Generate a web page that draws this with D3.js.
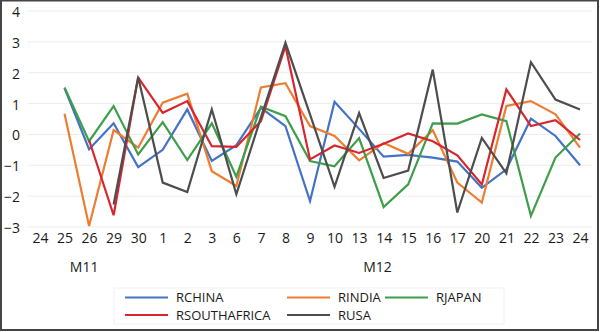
<!DOCTYPE html>
<html>
<head>
<meta charset="utf-8">
<script src="https://cdn.jsdelivr.net/npm/d3@7"></script>
<style>
  html, body { margin: 0; padding: 0; background: #fff; }
  svg { display: block; font-family: "Open Sans", "Noto Sans", sans-serif; }
</style>
</head>
<body>
<svg id="chart" width="600" height="332"></svg>
<script>
// ---- data ----
const days = ["24","25","26","29","30","1","2","3","6","7","8","9","10","13","14","15","16","17","20","21","22","23","24"];
const monthLabels = ["M11", "M12"];
const monthStart = [0, 5];
const monthEnd = [4, 22];
const yTicks = [-3, -2, -1, 0, 1, 2, 3, 4];

const seriesNames = ["RCHINA", "RINDIA", "RJAPAN", "RSOUTHAFRICA", "RUSA"];
const rchina = [null, 1.5, -0.48, 0.36, -1.06, -0.5, 0.81, -0.86, -0.35, 0.86, 0.27, -2.16, 1.06, 0.18, -0.72, -0.66, -0.75, -0.88, -1.73, -1.13, 0.51, -0.05, -1.0];
const rindia = [null, 0.67, -2.97, 0.14, -0.43, 1.03, 1.32, -1.19, -1.67, 1.52, 1.66, 0.27, -0.05, -0.84, -0.28, -0.63, 0.14, -1.56, -2.21, 0.92, 1.08, 0.65, -0.43];
const rjapan = [null, 1.52, -0.22, 0.92, -0.65, 0.4, -0.83, 0.36, -1.37, 0.9, 0.59, -0.86, -1.03, -0.12, -2.35, -1.62, 0.36, 0.35, 0.65, 0.43, -2.64, -0.75, 0.03];
const rsouthafrica = [null, null, -0.18, -2.62, 1.84, 0.7, 1.08, -0.38, -0.4, 0.43, 2.86, -0.81, -0.36, -0.6, -0.3, 0.03, -0.22, -0.68, -1.62, 1.46, 0.27, 0.46, -0.18];
const rusa = [null, null, null, -2.27, 1.85, -1.56, -1.87, 0.81, -1.94, 0.55, 2.97, 0.65, -1.7, 0.69, -1.41, -1.17, 2.1, -2.53, -0.11, -1.26, 2.34, 1.13, 0.81];
const seriesValues = [rchina, rindia, rjapan, rsouthafrica, rusa];

// ---- style ----
const colors = ["#4472C4", "#ED7D31", "#3E9E4A", "#D9262E", "#4D4D4D"];

const svg = d3.select("#chart");
const W = 600, H = 332;

// border
svg.append("rect").attr("x", 1).attr("y", 0.5).attr("width", W - 3).attr("height", H - 2.5)
  .attr("fill", "#fff").attr("stroke", "#454545").attr("stroke-width", 2);

const plotLeft = 27.7, plotRight = 592.3, plotTop = 11, plotBottom = 227;

const x = d3.scalePoint().domain(d3.range(days.length)).range([plotLeft, plotRight]).padding(0.5);
const y = d3.scaleLinear().domain([-3, 4]).range([plotBottom, plotTop]);

// gridlines
svg.append("g").selectAll("line").data(yTicks).join("line")
  .attr("x1", plotLeft).attr("x2", plotRight)
  .attr("y1", d => y(d)).attr("y2", d => y(d))
  .attr("stroke", "#ececec").attr("stroke-width", 1);

// y axis
const yAxis = d3.axisLeft(y).tickValues(yTicks).tickSize(0).tickPadding(0).tickFormat(d3.format("d"));
const gy = svg.append("g").attr("transform", "translate(20,1)").call(yAxis);
gy.select(".domain").remove();
gy.selectAll("text").attr("font-size", 14).attr("fill", "#1a1a1a").attr("font-family", "'Open Sans', sans-serif");

// x axis (day labels)
const xAxis = d3.axisBottom(x).tickSize(0).tickPadding(0).tickFormat(i => days[i]);
const gx = svg.append("g").attr("transform", "translate(0,233)").call(xAxis);
gx.select(".domain").remove();
gx.selectAll("text").attr("font-size", 14).attr("fill", "#1a1a1a").attr("font-family", "'Open Sans', sans-serif");

// month group labels
const xi = d3.scaleLinear().domain([0, days.length - 1]).range([x(0), x(days.length - 1)]);
const monthCenter = monthLabels.map((m, k) => (monthStart[k] + monthEnd[k]) / 2);
const monthShift = [-0.2, 0.25]; // Excel places group labels slightly off-centre
svg.append("g").selectAll("text").data(monthLabels).join("text")
  .attr("x", (d, k) => xi(monthCenter[k] + monthShift[k]))
  .attr("y", 272)
  .attr("text-anchor", "middle")
  .attr("font-size", 14).attr("fill", "#1a1a1a")
  .text(d => d);

// lines
const line = d3.line()
  .defined(d => d.v !== null)
  .x(d => x(d.i))
  .y(d => y(d.v));

seriesNames.forEach((name, s) => {
  const pts = seriesValues[s].map((v, i) => ({ i, v }));
  svg.append("path").datum(pts)
    .attr("d", line)
    .attr("fill", "none")
    .attr("stroke", colors[s])
    .attr("stroke-width", 2.2)
    .attr("stroke-linejoin", "miter");
});

// legend
svg.append("rect").attr("x", 114).attr("y", 288).attr("width", 390).attr("height", 36)
  .attr("fill", "none").attr("stroke", "#f2f2f2").attr("stroke-width", 1);

const legendCols = [125, 287, 385];
const legendRows = [297.5, 315];
const legendPos = [[0, 0], [1, 0], [2, 0], [0, 1], [1, 1]];
const lg = svg.append("g").selectAll("g").data(seriesNames).join("g")
  .attr("transform", (d, s) => `translate(${legendCols[legendPos[s][0]]},${legendRows[legendPos[s][1]]})`);
lg.append("line").attr("x1", 0).attr("x2", 43).attr("y1", 0).attr("y2", 0)
  .attr("stroke", (d, s) => colors[s]).attr("stroke-width", 2);
lg.append("text").attr("x", 51).attr("y", 0).attr("dy", "0.35em")
  .attr("font-size", 13).attr("fill", "#1a1a1a")
  .text(d => d);
</script>
</body>
</html>
